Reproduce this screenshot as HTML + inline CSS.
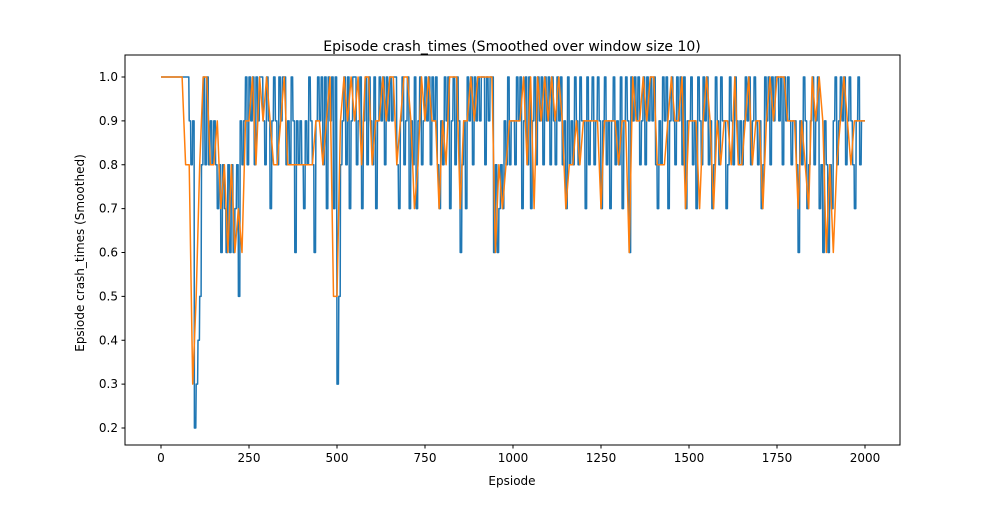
<!DOCTYPE html>
<html><head><meta charset="utf-8"><style>
body{margin:0;background:#fff}
svg text{font-family:"DejaVu Sans","Liberation Sans",sans-serif;fill:#000}
</style></head><body>
<svg id="chart" width="1000" height="500" xmlns="http://www.w3.org/2000/svg">
<rect width="1000" height="500" fill="#fff"/>
<text x="512" y="51" font-size="14" text-anchor="middle">Episode crash_times (Smoothed over window size 10)</text>
<text x="512" y="485" font-size="12" text-anchor="middle">Epsiode</text>
<text x="84" y="253" font-size="12" text-anchor="middle" transform="rotate(-90 84 253)">Epsiode crash_times (Smoothed)</text>
<g id="grid"></g>
<g id="series"></g>
<rect x="125" y="55" width="775" height="390" fill="none" stroke="#000" stroke-width="1"/>
</svg>
<script>
const xTicks=[0,250,500,750,1000,1250,1500,1750,2000];
const yTicks=[0.2,0.3,0.4,0.5,0.6,0.7,0.8,0.9,1.0];
const rawStep=5;
const rawTenths=[
10,10,10,10,10,10,10,10,10,10, 10,10,10,10,10,10,9,8,9,2,
3,4,5,8,10,8,10,8,9,8, 9,8,7,8,6,8,7,6,8,6,
8,6,7,8,5,9,8,9,10,8, 10,9,10,8,10,9,10,10,9,8,
10,9,7,9,10,9,8,10,9,10, 10,8,9,8,10,9,6,9,8,9,
8,7,9,8,10,9,8,6,9,10, 9,10,8,10,7,10,9,10,7,10,
3,5,8,9,10,8,10,7,9,10, 10,8,9,10,7,9,10,8,10,9,
8,10,7,9,10,9,10,8,10,9, 10,9,10,10,8,7,9,10,8,9,
10,7,9,8,10,7,9,10,8,9, 10,9,10,8,10,9,10,8,7,9,
8,10,9,10,7,9,10,8,10,9, 6,8,9,7,10,9,10,8,10,9,
10,9,10,10,8,10,9,10,10,6, 8,6,7,8,7,9,8,10,8,9,
9,8,10,9,10,7,9,10,8,10, 7,9,10,8,10,9,10,8,10,9,
10,8,10,9,8,10,9,10,8,9, 7,10,8,9,8,10,9,8,10,9,
9,7,10,8,9,10,8,9,10,9, 7,9,10,8,9,7,9,10,8,9,
8,10,7,9,10,9,6,10,9,10, 9,10,8,9,10,8,10,9,10,9,
10,8,7,9,8,10,9,10,7,9, 10,9,8,10,9,10,8,10,7,9,
9,10,8,9,7,10,9,8,10,9, 10,8,9,7,8,10,9,8,10,9,
9,7,8,10,9,8,10,9,8,9, 8,9,10,9,10,8,9,10,9,8,
9,7,8,10,9,10,8,10,9,10, 10,9,10,8,10,9,10,9,8,9,
9,8,6,9,8,10,9,7,8,9, 10,8,9,10,7,8,6,9,8,6,
8,7,9,10,8,9,10,9,10,8, 9,10,9,8,7,9,10,8,9,9,9];
const smoothStep=10;
const smoothTenths=[
10,10,10,10,10,10,10,8,8,3, 5,8,10,10,8,8,9,7,8,6,
8,6,7,6,9,9,10,8,10,9, 10,9,8,8,9,10,8,8,8,8,
8,8,8,8,9,9,8,9,10,5, 5,9,10,9,10,9,10,8,10,10,
8,9,9,10,9,10,10,8,9,10, 10,9,7,8,10,9,10,9,9,7,
9,8,10,10,10,7,9,9,10,9, 10,10,10,10,10,6,8,7,8,9,
9,9,9,10,8,10,7,10,9,10, 9,10,9,10,9,7,8,8,9,8,
9,9,9,9,9,7,9,9,9,9, 8,9,9,6,10,9,9,10,9,10,
10,8,8,8,9,10,9,9,10,7, 9,9,9,7,9,10,9,7,9,8,
9,9,8,10,8,8,9,10,8,9, 9,7,9,10,9,10,10,10,9,9,
9,7,9,8,7,10,9,10,9,6, 8,6,8,9,10,9,8,9,9,9,9];

const X0=125,X1=900,Y0=55,Y1=445;
const xs=v=>161+(v/2000)*704;
const ys=v=>428-(v-0.2)/0.8*351;
const NS="http://www.w3.org/2000/svg";
const grid=document.getElementById('grid');
xTicks.forEach(t=>{
  const l=document.createElementNS(NS,'line');
  l.setAttribute('x1',xs(t));l.setAttribute('x2',xs(t));l.setAttribute('y1',Y1);l.setAttribute('y2',Y1+3.5);l.setAttribute('stroke','#000');
  
  
  grid.appendChild(l);
  const tx=document.createElementNS(NS,'text');
  tx.setAttribute('x',xs(t));tx.setAttribute('y',Y1+17);tx.setAttribute('font-size','12');tx.setAttribute('text-anchor','middle');
  tx.textContent=t;
  
  
  grid.appendChild(tx);
});
yTicks.forEach(t=>{
  const l=document.createElementNS(NS,'line');
  l.setAttribute('x1',X0-3.5);l.setAttribute('x2',X0);l.setAttribute('y1',ys(t));l.setAttribute('y2',ys(t));l.setAttribute('stroke','#000');
  
  
  grid.appendChild(l);
  const tx=document.createElementNS(NS,'text');
  tx.setAttribute('x',X0-7);tx.setAttribute('y',ys(t)+4);tx.setAttribute('font-size','12');tx.setAttribute('text-anchor','end');
  tx.textContent=t.toFixed(1);
  
  
  grid.appendChild(tx);
});
const series=document.getElementById('series');
function drawStep(arr,step,color,name){
  let d='';
  arr.forEach((v,i)=>{
    const x=xs(i*step),y=ys(v/10);
    if(i===0){d+='M'+x.toFixed(1)+','+y.toFixed(1);}
    else{const xm=xs(i*step-1);d+=' L'+xm.toFixed(1)+','+ys(arr[i-1]/10).toFixed(1)+' L'+x.toFixed(1)+','+y.toFixed(1);}
  });
  const p=document.createElementNS(NS,'path');
  p.setAttribute('d',d);p.setAttribute('fill','none');p.setAttribute('stroke',color);p.setAttribute('stroke-width','1.5');p.setAttribute('stroke-linejoin','round');
  
  
  series.appendChild(p);
}
function drawLine(arr,step,color,name){
  const pts=arr.map((v,i)=>xs(i*step).toFixed(1)+','+ys(v/10).toFixed(1)).join(' ');
  const p=document.createElementNS(NS,'polyline');
  p.setAttribute('points',pts);p.setAttribute('fill','none');p.setAttribute('stroke',color);p.setAttribute('stroke-width','1.5');p.setAttribute('stroke-linejoin','round');
  
  
  series.appendChild(p);
}
drawStep(rawTenths,rawStep,'#1f77b4','raw-series-line');
drawLine(smoothTenths,smoothStep,'#ff7f0e','smoothed-series-line');
</script>
</body></html>
